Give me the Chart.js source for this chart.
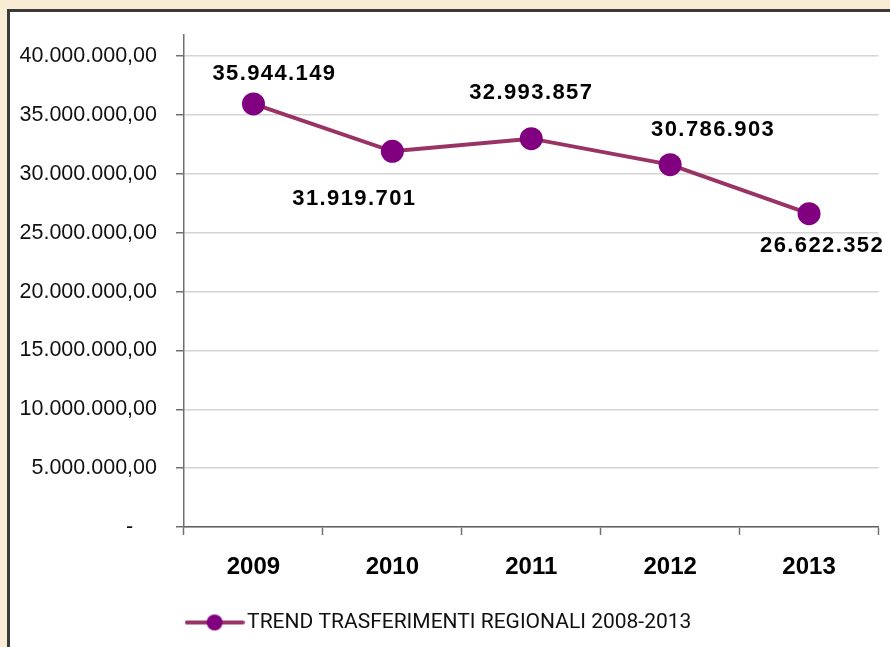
<!DOCTYPE html>
<html>
<head>
<meta charset="utf-8">
<script src="https://cdn.jsdelivr.net/npm/chart.js@4.4.0/dist/chart.umd.min.js"></script>
<style>
    body { margin: 0; background: #f8ecd4; overflow: hidden; }
    #panel { position: absolute; left: 7px; top: 9px; width: 950px; height: 700px; background: #ffffff; border-left: 3px solid #3a3a3a; border-top: 3px solid #3a3a3a; }
    #wrap { position: absolute; left: 0; top: 0; width: 890px; height: 647px; }
</style>
</head>
<body>
<div id="panel"></div>
<div id="wrap"><canvas id="myChart"></canvas></div>
<script>
// dati del grafico
var anni = ["2009", "2010", "2011", "2012", "2013"];
var trasferimenti = [35944149, 31919701, 32993857, 30786903, 26622352];
var serieNome = "TREND TRASFERIMENTI REGIONALI 2008-2013";
var tickY = [0, 5000000, 10000000, 15000000, 20000000, 25000000, 30000000, 35000000, 40000000];

var lineColor = "#993366";
var pointColor = "#800080";

function formatIt(n, dec) {
    var parts = n.toFixed(dec).split(".");
    var intPart = parts[0].replace(/\B(?=(\d{3})+(?!\d))/g, ".");
    return dec > 0 ? intPart + "," + parts[1] : intPart;
}

// simbolo della legenda: linea con pallino
var legendIcon = document.createElement("canvas");
legendIcon.width = 60;
legendIcon.height = 20;
var lctx = legendIcon.getContext("2d");
lctx.strokeStyle = lineColor;
lctx.lineWidth = 4;
lctx.lineCap = "round";
lctx.beginPath();
lctx.moveTo(2, 10);
lctx.lineTo(58, 10);
lctx.stroke();
lctx.fillStyle = pointColor;
lctx.beginPath();
lctx.arc(30, 10, 8, 0, Math.PI * 2);
lctx.fill();

// etichette dei valori (posizionate a mano come nell'originale)
var etichettePlugin = {
    id: "etichette",
    afterDatasetsDraw: function (chart, args, opts) {
        var ctx = chart.ctx;
        var meta = chart.getDatasetMeta(0);
        ctx.save();
        ctx.font = "bold 22px 'Liberation Sans'";
        ctx.letterSpacing = "1.4px";
        ctx.fillStyle = "#000000";
        ctx.textAlign = "center";
        ctx.textBaseline = "middle";
        meta.data.forEach(function (pt, i) {
            var off = opts.offsets[i];
            ctx.fillText(formatIt(trasferimenti[i], 0), pt.x + off[0], pt.y + off[1]);
        });
        ctx.restore();
    }
};

var ctx = document.getElementById("myChart").getContext("2d");
var myChart = new Chart(ctx, {
    type: "line",
    data: {
        labels: anni,
        datasets: [
            {
                label: serieNome,
                data: trasferimenti,
                borderColor: lineColor,
                borderWidth: 4,
                backgroundColor: pointColor,
                pointBackgroundColor: pointColor,
                pointBorderColor: pointColor,
                pointBorderWidth: 0,
                pointRadius: 11.5,
                pointHoverRadius: 11.5,
                pointStyle: "circle",
                tension: 0,
                fill: false
            }
        ]
    },
    options: {
        responsive: true,
        maintainAspectRatio: false,
        animation: false,
        layout: {
            padding: { left: 0, right: 6, top: 35, bottom: 4 }
        },
        scales: {
            x: {
                offset: true,
                grid: {
                    offset: true,
                    drawOnChartArea: false,
                    drawTicks: true,
                    tickLength: 8,
                    tickColor: "#707070",
                    tickWidth: 1.5
                },
                border: { color: "#606060", width: 1.5 },
                ticks: {
                    color: "#000000",
                    padding: 18,
                    font: { family: "'Liberation Sans'", size: 24, weight: "bold" }
                },
                afterFit: function (scale) {
                    scale.height = 75;
                }
            },
            y: {
                min: 0,
                max: 41800000,
                afterBuildTicks: function (scale) {
                    scale.ticks = tickY.map(function (v) {
                        return { value: v };
                    });
                },
                grid: {
                    color: "#d4d4d4",
                    lineWidth: 1.5,
                    drawTicks: true,
                    tickLength: 8,
                    tickColor: "#707070",
                    tickWidth: 1.5
                },
                border: { color: "#707070", width: 1.5 },
                ticks: {
                    color: "#111111",
                    padding: 19,
                    font: { family: "'Liberation Sans'", size: 21.5 },
                    callback: function (value) {
                        if (value === 0) {
                            return "-    ";
                        }
                        return formatIt(value, 2);
                    }
                },
                afterFit: function (scale) {
                    scale.width = 184;
                }
            }
        },
        plugins: {
            legend: {
                position: "bottom",
                labels: {
                    usePointStyle: true,
                    pointStyle: legendIcon,
                    pointStyleWidth: 44,
                    color: "#111111",
                    padding: 10,
                    font: { family: "Roboto", size: 21 }
                }
            },
            tooltip: { enabled: false },
            etichette: {
                offsets: [[21, -30], [-38, 48], [0, -46], [43, -35], [13, 32]]
            }
        }
    },
    plugins: [etichettePlugin]
});
</script>
</body>
</html>
